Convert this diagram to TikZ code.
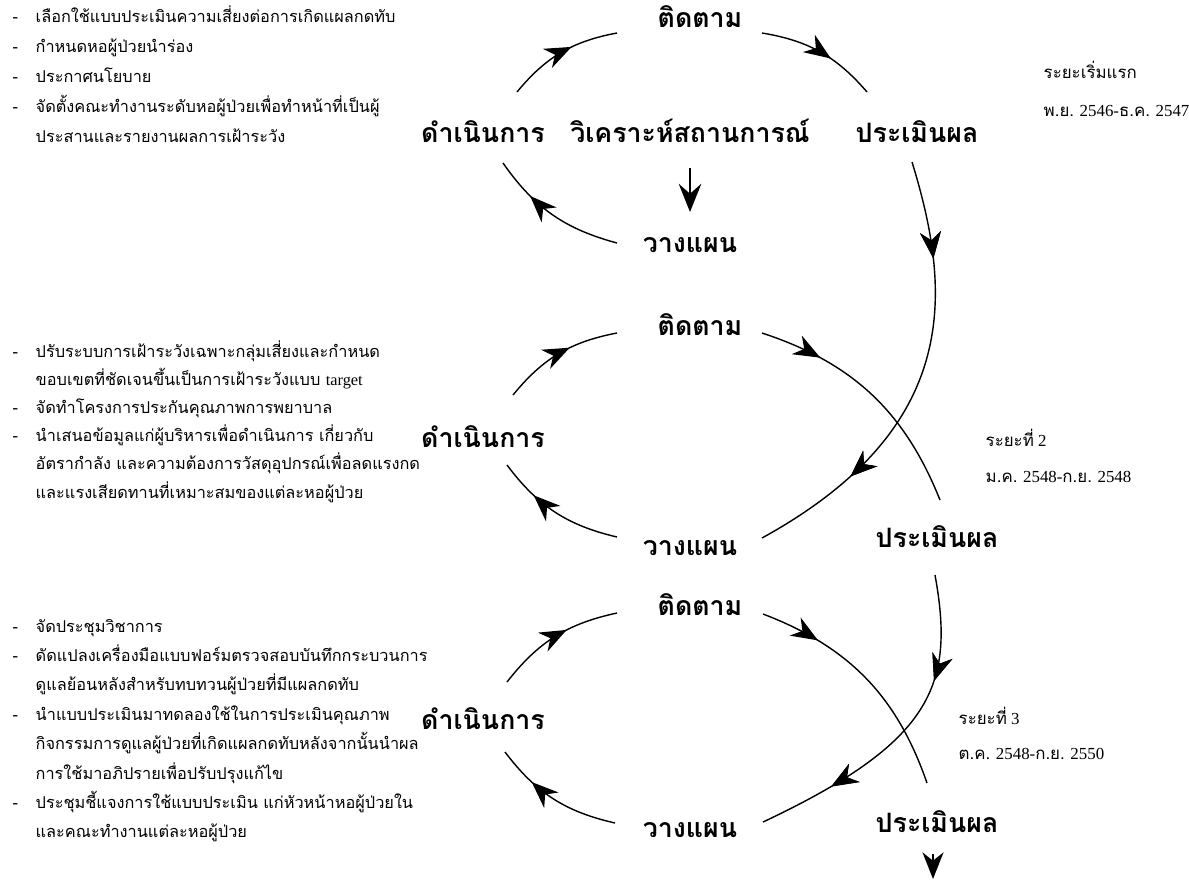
\documentclass[tikz,border=0pt]{standalone}
\usepackage{fontspec}
\setmainfont{Liberation Serif}
\newfontfamily\thai[Script=Thai]{Loma}
\usetikzlibrary{arrows.meta,decorations.markings}

\tikzset{
  bigtip/.tip={Stealth[length=19pt,width=15pt,inset=6pt]},
  midarrow/.style={postaction={decorate},decoration={markings,mark=at position #1 with {\arrow{bigtip}}}},
  lbl/.style={font=\thai\bfseries\fontsize{19}{21}\selectfont,anchor=base},
  txt/.style={font=\thai\fontsize{11.6}{14}\selectfont,anchor=base west,inner sep=0pt},
  note/.style={font=\fontsize{12}{14}\selectfont,anchor=base west,inner sep=0pt},
}

\begin{document}
\begin{tikzpicture}[x=0.025cm,y=-0.025cm,line width=1pt]
  \useasboundingbox (0,0) rectangle (1189,884);
  % ข้อความด้านซ้าย
  \foreach \b/\t [count=\i from 0] in {-/เลือกใช้แบบประเมินความเสี่ยงต่อการเกิดแผลกดทับ,-/กำหนดหอผู้ป่วยนำร่อง,-/ประกาศนโยบาย,-/จัดตั้งคณะทำงานระดับหอผู้ป่วยเพื่อทำหน้าที่เป็นผู้,{}/ประสานและรายงานผลการเฝ้าระวัง}{
    \node[txt] (ba\i) at (12,{22+30*\i}) {\b};
    \node[txt] (ta\i) at (35,{22+30*\i}) {\t};
  }
  \foreach \b/\t [count=\i from 0] in {-/ปรับระบบการเฝ้าระวังเฉพาะกลุ่มเสี่ยงและกำหนด,{}/ขอบเขตที่ชัดเจนขึ้นเป็นการเฝ้าระวังแบบ {\rmfamily target},-/จัดทำโครงการประกันคุณภาพการพยาบาล,-/นำเสนอข้อมูลแก่ผู้บริหารเพื่อดำเนินการ เกี่ยวกับ,{}/อัตรากำลัง และความต้องการวัสดุอุปกรณ์เพื่อลดแรงกด,{}/และแรงเสียดทานที่เหมาะสมของแต่ละหอผู้ป่วย}{
    \node[txt] (bb\i) at (12,{357+28.2*\i}) {\b};
    \node[txt] (tb\i) at (35,{357+28.2*\i}) {\t};
  }
  \foreach \b/\t [count=\i from 0] in {-/จัดประชุมวิชาการ,-/ดัดแปลงเครื่องมือแบบฟอร์มตรวจสอบบันทึกกระบวนการ,{}/ดูแลย้อนหลังสำหรับทบทวนผู้ป่วยที่มีแผลกดทับ,-/นำแบบประเมินมาทดลองใช้ในการประเมินคุณภาพ,{}/กิจกรรมการดูแลผู้ป่วยที่เกิดแผลกดทับหลังจากนั้นนำผล,{}/การใช้มาอภิปรายเพื่อปรับปรุงแก้ไข,-/ประชุมชี้แจงการใช้แบบประเมิน แก่หัวหน้าหอผู้ป่วยใน,{}/และคณะทำงานแต่ละหอผู้ป่วย}{
    \node[txt] (bc\i) at (12,{632+29.4*\i}) {\b};
    \node[txt] (tc\i) at (35,{632+29.4*\i}) {\t};
  }
  % ระยะ
  \node[note] (r1a) at (1043,78) {\thai ระยะเริ่มแรก};
  \node[note] (r1b) at (1043,116) {{\thai พ.ย.} 2546-{\thai ธ.ค.} 2547};
  \node[note] (r2a) at (985,446) {{\thai ระยะที่} 2};
  \node[note] (r2b) at (985,482) {{\thai ม.ค.} 2548-{\thai ก.ย.} 2548};
  \node[note] (r3a) at (958,724) {{\thai ระยะที่} 3};
  \node[note] (r3b) at (958,759) {{\thai ต.ค.} 2548-{\thai ก.ย.} 2550};
  % วงรอบที่ 1
  \node[lbl] (tt1) at (700,27) {ติดตาม};
  \node[lbl] (dn1) at (483,142) {ดำเนินการ};
  \node[lbl] (vk1) at (690,142) {วิเคราะห์สถานการณ์};
  \node[lbl] (pm1) at (917,142) {ประเมินผล};
  \node[lbl] (wp1) at (690,252) {วางแผน};
  % วงรอบที่ 2
  \node[lbl] (tt2) at (700,335) {ติดตาม};
  \node[lbl] (dn2) at (483,447) {ดำเนินการ};
  \node[lbl] (wp2) at (690,555) {วางแผน};
  \node[lbl] (pm2) at (937,547) {ประเมินผล};
  % วงรอบที่ 3
  \node[lbl] (tt3) at (700,615) {ติดตาม};
  \node[lbl] (dn3) at (483,729) {ดำเนินการ};
  \node[lbl] (wp3) at (690,837) {วางแผน};
  \node[lbl] (pm3) at (937,832) {ประเมินผล};
  % ลูกศร
  \draw[midarrow=0.6] ([shift={(34,-50)}]dn1.base) to[bend left=20] ([shift={(-83,6)}]tt1.base);
  \draw[midarrow=0.6] ([shift={(62,6)}]tt1.base) to[bend left=20] ([shift={(-50,-50)}]pm1.base);
  \draw[midarrow=0.7] ([shift={(-73,-9)}]wp1.base) to[bend left=20] ([shift={(20,21)}]dn1.base);
  \draw[line width=2pt,-{Stealth[length=20pt,width=16pt,inset=7pt]}] ([shift={(0,26)}]vk1.base) -- ([shift={(0,-40)}]wp1.base);
  \draw[midarrow=0.22,midarrow=0.76] ([shift={(-5,20)}]pm1.base) .. controls +(40,130) and +(200,-110) .. ([shift={(72,-17)}]wp2.base);
  \draw[midarrow=0.6] ([shift={(30,-52)}]dn2.base) to[bend left=20] ([shift={(-83,-2)}]tt2.base);
  \draw[midarrow=0.25] ([shift={(62,-2)}]tt2.base) to[bend left=25] ([shift={(3,-47)}]pm2.base);
  \draw[midarrow=0.7] ([shift={(-73,-18)}]wp2.base) to[bend left=20] ([shift={(24,18)}]dn2.base);
  \draw[midarrow=0.32,midarrow=0.77] ([shift={(-2,28)}]pm2.base) .. controls +(20,110) and +(170,-80) .. ([shift={(73,-15)}]wp3.base);
  \draw[midarrow=0.6] ([shift={(24,-47)}]dn3.base) to[bend left=20] ([shift={(-83,-2)}]tt3.base);
  \draw[midarrow=0.25] ([shift={(63,-1)}]tt3.base) to[bend left=25] ([shift={(-10,-49)}]pm3.base);
  \draw[midarrow=0.7] ([shift={(-75,-14)}]wp3.base) to[bend left=20] ([shift={(22,23)}]dn3.base);
  \draw[-bigtip] ([shift={(-4,22)}]pm3.base) -- ([shift={(-4,47)}]pm3.base);
\end{tikzpicture}
\end{document}
